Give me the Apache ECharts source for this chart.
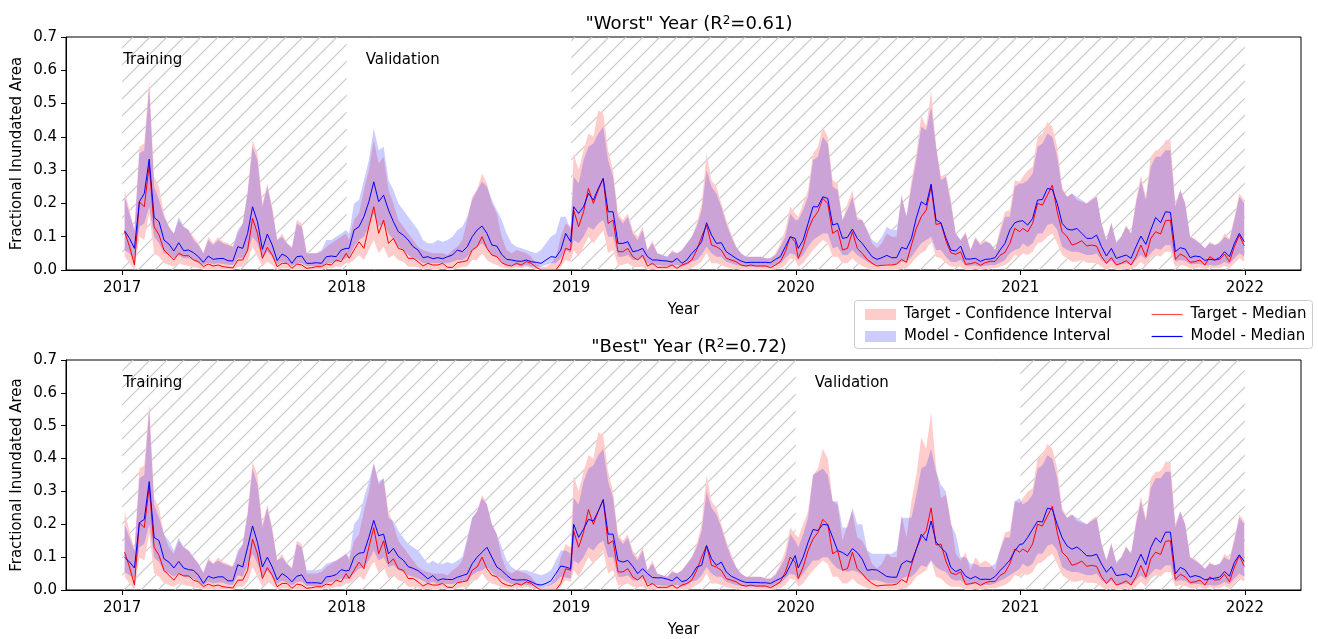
<!DOCTYPE html>
<html><head><meta charset="utf-8">
<script src="https://cdn.jsdelivr.net/npm/echarts@6/dist/echarts.min.js"></script>
<style>html,body{margin:0;padding:0;background:#fff}#c{width:1318px;height:639px}</style>
</head><body><div id="c"></div>
<script>
// ---- categories (8-day composites) ----
const years = [2017, 2018, 2019, 2020, 2021];
const dayOfYear = [4,12,20,28,36,44,52,60,68,76,84,92,100,108,116,124,132,140,148,156,164,172,180,188,196,204,212,220,228,236,244,252,260,268,276,284,292,300,308,316,324,332,340,348,356,364];
const xTickYears = [2017, 2018, 2019, 2020, 2021, 2022];

// ---- target (shared by both panels) ----
const targetMedian = [
0.115,0.07,0.015,0.205,0.19,0.315,0.13,0.105,0.06,0.045,0.03,0.05,0.043,0.043,0.03,0.025,0.01,0.018,0.012,0.015,0.01,0.008,0.006,0.03,0.03,0.06,0.155,0.11,0.035,0.068,0.045,0.01,0.02,0.02,0.005,0.018,0.015,0.005,0.007,0.01,0.01,0.018,0.015,0.03,0.025,0.05,
0.035,0.06,0.085,0.065,0.13,0.19,0.11,0.15,0.08,0.095,0.065,0.06,0.035,0.035,0.025,0.012,0.02,0.015,0.015,0.02,0.008,0.008,0.022,0.025,0.028,0.06,0.07,0.1,0.065,0.045,0.04,0.022,0.015,0.012,0.02,0.015,0.025,0.02,0.008,0,0,0,0,0.02,0.065,0.06,
0.18,0.13,0.175,0.245,0.2,0.24,0.275,0.14,0.15,0.055,0.055,0.065,0.04,0.03,0.045,0.012,0.02,0.008,0.008,0.008,0.015,0.005,0.015,0.02,0.03,0.06,0.1,0.135,0.075,0.07,0.06,0.035,0.03,0.025,0.015,0.012,0.015,0.012,0.012,0.012,0.007,0.015,0.025,0.055,0.1,0.085,
0.035,0.07,0.12,0.155,0.175,0.215,0.2,0.11,0.12,0.06,0.065,0.115,0.065,0.05,0.032,0.02,0.012,0.014,0.015,0.015,0.018,0.032,0.023,0.075,0.125,0.16,0.18,0.25,0.137,0.14,0.088,0.052,0.047,0.055,0.017,0.019,0.023,0.014,0.022,0.026,0.026,0.044,0.053,0.08,0.125,0.115,
0.125,0.115,0.14,0.2,0.195,0.225,0.255,0.175,0.115,0.1,0.075,0.08,0.088,0.072,0.075,0.072,0.04,0.02,0.037,0.015,0.02,0.028,0.015,0.04,0.075,0.04,0.095,0.115,0.108,0.148,0.15,0.032,0.048,0.04,0.023,0.025,0.03,0.015,0.04,0.03,0.032,0.048,0.025,0.07,0.105,0.072
];
const targetUpper = [
0.24,0.18,0.12,0.37,0.38,0.57,0.28,0.25,0.17,0.13,0.11,0.15,0.13,0.12,0.1,0.08,0.05,0.1,0.08,0.1,0.085,0.08,0.07,0.11,0.14,0.24,0.39,0.35,0.2,0.26,0.19,0.09,0.11,0.08,0.07,0.15,0.14,0.05,0.05,0.05,0.055,0.07,0.08,0.09,0.1,0.11,
0.09,0.15,0.17,0.24,0.3,0.39,0.32,0.34,0.24,0.2,0.15,0.13,0.11,0.09,0.07,0.06,0.055,0.05,0.05,0.05,0.045,0.06,0.07,0.09,0.15,0.22,0.24,0.29,0.26,0.2,0.17,0.1,0.06,0.05,0.06,0.055,0.05,0.04,0.02,0.01,0.01,0.02,0.04,0.1,0.14,0.13,
0.35,0.3,0.36,0.41,0.4,0.48,0.47,0.36,0.3,0.17,0.15,0.17,0.12,0.1,0.13,0.06,0.09,0.05,0.045,0.04,0.06,0.05,0.06,0.08,0.1,0.14,0.2,0.35,0.27,0.25,0.2,0.15,0.11,0.07,0.05,0.04,0.04,0.04,0.04,0.035,0.035,0.05,0.08,0.12,0.19,0.17,
0.16,0.2,0.24,0.35,0.37,0.43,0.4,0.27,0.26,0.15,0.2,0.24,0.16,0.15,0.12,0.08,0.065,0.08,0.11,0.1,0.1,0.23,0.16,0.27,0.35,0.465,0.43,0.54,0.375,0.28,0.29,0.215,0.11,0.09,0.115,0.06,0.1,0.08,0.09,0.08,0.06,0.125,0.175,0.18,0.27,0.265,
0.28,0.3,0.31,0.4,0.41,0.445,0.43,0.37,0.25,0.22,0.23,0.21,0.205,0.2,0.215,0.225,0.14,0.09,0.145,0.08,0.1,0.135,0.11,0.21,0.285,0.22,0.34,0.36,0.36,0.39,0.39,0.2,0.24,0.2,0.1,0.095,0.08,0.065,0.085,0.075,0.08,0.11,0.095,0.16,0.23,0.21
];
const targetLower = [
0.04,0.02,0,0.1,0.09,0.17,0.05,0.04,0.02,0.015,0.01,0.02,0.015,0.012,0.008,0.005,0,0,0,0,0,0,0,0.01,0.01,0.025,0.07,0.04,0.01,0.025,0.015,0,0.005,0.005,0,0,0,0,0,0,0,0.005,0.005,0.01,0.01,0.02,
0.02,0.03,0.045,0.03,0.06,0.09,0.05,0.07,0.035,0.045,0.03,0.025,0.01,0.01,0.008,0,0.005,0,0,0.005,0,0,0.005,0.008,0.01,0.03,0.03,0.05,0.03,0.02,0.015,0.008,0.005,0.004,0.008,0.005,0.01,0.005,0,0,0,0,0,0.01,0.03,0.025,
0.06,0.04,0.07,0.1,0.08,0.1,0.12,0.05,0.06,0.015,0.015,0.02,0.01,0.008,0.01,0,0.002,0,0,0,0,0,0,0,0.005,0.015,0.025,0.05,0.02,0.02,0.015,0.008,0.005,0.004,0,0,0,0,0,0,0,0.002,0.005,0.015,0.035,0.03,
0.01,0.02,0.04,0.06,0.075,0.09,0.08,0.04,0.04,0.02,0.02,0.035,0.02,0.012,0.005,0,0,0,0,0,0,0.003,0.005,0.02,0.04,0.05,0.06,0.09,0.04,0.035,0.02,0.01,0.01,0.01,0,0,0.003,0,0.003,0.005,0.005,0.01,0.015,0.025,0.045,0.04,
0.05,0.045,0.055,0.08,0.085,0.1,0.11,0.08,0.045,0.035,0.025,0.025,0.03,0.022,0.022,0.02,0.01,0,0.008,0,0,0.005,0,0.01,0.025,0.01,0.035,0.045,0.04,0.055,0.055,0.01,0.015,0.012,0.005,0.005,0.008,0.002,0.008,0.005,0.006,0.012,0.005,0.02,0.035,0.025
];

// ---- model, "Worst" split (top panel) ----
const worstModelMedian = [
0.118,0.095,0.065,0.205,0.23,0.333,0.158,0.145,0.09,0.078,0.057,0.082,0.058,0.06,0.052,0.04,0.023,0.042,0.032,0.034,0.035,0.028,0.027,0.07,0.065,0.11,0.19,0.145,0.062,0.108,0.075,0.028,0.048,0.04,0.02,0.04,0.042,0.02,0.02,0.022,0.02,0.04,0.042,0.04,0.06,0.065,
0.065,0.12,0.13,0.16,0.205,0.265,0.205,0.225,0.18,0.145,0.115,0.105,0.09,0.07,0.06,0.037,0.04,0.034,0.037,0.034,0.04,0.045,0.06,0.055,0.07,0.1,0.12,0.132,0.11,0.075,0.072,0.047,0.032,0.03,0.027,0.026,0.03,0.025,0.023,0.02,0.03,0.04,0.038,0.06,0.11,0.085,
0.19,0.17,0.19,0.23,0.21,0.245,0.275,0.175,0.175,0.08,0.08,0.085,0.055,0.058,0.065,0.04,0.03,0.03,0.028,0.027,0.024,0.035,0.02,0.03,0.05,0.065,0.085,0.142,0.105,0.08,0.082,0.055,0.045,0.035,0.027,0.022,0.023,0.023,0.023,0.023,0.022,0.032,0.04,0.07,0.1,0.095,
0.065,0.09,0.14,0.19,0.19,0.22,0.215,0.135,0.14,0.095,0.098,0.123,0.095,0.08,0.06,0.04,0.032,0.037,0.044,0.037,0.037,0.068,0.063,0.095,0.157,0.205,0.195,0.258,0.15,0.142,0.097,0.06,0.057,0.072,0.033,0.033,0.035,0.026,0.032,0.033,0.037,0.06,0.08,0.12,0.142,0.147,
0.148,0.135,0.155,0.21,0.212,0.245,0.242,0.2,0.14,0.123,0.12,0.125,0.11,0.095,0.095,0.105,0.07,0.042,0.065,0.035,0.04,0.045,0.035,0.07,0.102,0.077,0.12,0.158,0.142,0.175,0.173,0.055,0.067,0.063,0.037,0.042,0.04,0.029,0.032,0.03,0.037,0.055,0.04,0.08,0.11,0.085
];
const worstModelUpper = [
0.22,0.17,0.12,0.35,0.36,0.55,0.25,0.21,0.16,0.13,0.11,0.16,0.13,0.12,0.09,0.075,0.05,0.09,0.075,0.09,0.08,0.075,0.07,0.12,0.14,0.23,0.37,0.33,0.19,0.25,0.18,0.09,0.1,0.08,0.065,0.14,0.13,0.05,0.05,0.05,0.06,0.09,0.09,0.1,0.11,0.12,
0.11,0.2,0.21,0.27,0.33,0.425,0.36,0.37,0.27,0.24,0.2,0.18,0.16,0.14,0.12,0.09,0.08,0.08,0.09,0.085,0.09,0.1,0.12,0.13,0.16,0.21,0.24,0.265,0.25,0.21,0.18,0.15,0.11,0.08,0.07,0.065,0.06,0.055,0.05,0.06,0.08,0.1,0.11,0.16,0.16,0.12,
0.28,0.26,0.33,0.37,0.38,0.41,0.43,0.33,0.28,0.16,0.14,0.16,0.11,0.09,0.12,0.06,0.08,0.05,0.045,0.04,0.055,0.05,0.06,0.08,0.1,0.13,0.18,0.3,0.25,0.23,0.19,0.14,0.1,0.07,0.05,0.04,0.04,0.04,0.04,0.035,0.035,0.045,0.07,0.1,0.17,0.15,
0.15,0.18,0.22,0.33,0.34,0.4,0.38,0.25,0.24,0.15,0.18,0.22,0.15,0.15,0.12,0.09,0.08,0.1,0.13,0.12,0.12,0.22,0.16,0.25,0.33,0.43,0.42,0.49,0.37,0.27,0.28,0.2,0.11,0.09,0.11,0.06,0.095,0.075,0.085,0.08,0.06,0.11,0.16,0.16,0.25,0.26,
0.26,0.27,0.29,0.37,0.38,0.41,0.4,0.34,0.24,0.22,0.23,0.22,0.21,0.2,0.21,0.22,0.14,0.09,0.14,0.085,0.1,0.13,0.11,0.2,0.27,0.21,0.31,0.34,0.34,0.36,0.36,0.19,0.24,0.2,0.1,0.09,0.08,0.065,0.08,0.075,0.08,0.1,0.09,0.15,0.22,0.2
];
const worstModelLower = [
0.06,0.05,0.025,0.13,0.14,0.19,0.1,0.08,0.05,0.045,0.035,0.045,0.035,0.035,0.03,0.022,0.015,0.022,0.018,0.02,0.018,0.016,0.015,0.035,0.035,0.055,0.1,0.08,0.035,0.055,0.04,0.015,0.025,0.02,0.012,0.02,0.02,0.012,0.012,0.012,0.012,0.02,0.02,0.025,0.03,0.035,
0.04,0.07,0.09,0.1,0.13,0.17,0.13,0.14,0.11,0.09,0.07,0.06,0.045,0.035,0.03,0.02,0.02,0.02,0.02,0.02,0.02,0.025,0.03,0.03,0.04,0.06,0.07,0.08,0.065,0.045,0.04,0.025,0.015,0.015,0.015,0.01,0.015,0.01,0.01,0.01,0.015,0.02,0.02,0.035,0.06,0.05,
0.09,0.08,0.1,0.13,0.12,0.14,0.15,0.1,0.1,0.04,0.04,0.045,0.03,0.03,0.035,0.02,0.015,0.015,0.013,0.012,0.012,0.015,0.01,0.015,0.025,0.03,0.045,0.07,0.05,0.04,0.04,0.025,0.02,0.015,0.012,0.01,0.01,0.01,0.01,0.01,0.01,0.015,0.02,0.035,0.05,0.045,
0.03,0.045,0.07,0.09,0.1,0.11,0.11,0.065,0.07,0.045,0.045,0.06,0.045,0.035,0.025,0.018,0.015,0.015,0.018,0.016,0.016,0.025,0.025,0.04,0.06,0.08,0.09,0.1,0.06,0.06,0.04,0.025,0.023,0.03,0.013,0.013,0.014,0.01,0.013,0.014,0.015,0.022,0.03,0.05,0.06,0.065,
0.08,0.07,0.08,0.11,0.11,0.135,0.14,0.12,0.07,0.06,0.055,0.055,0.05,0.045,0.045,0.05,0.03,0.018,0.028,0.015,0.017,0.02,0.015,0.03,0.045,0.033,0.05,0.065,0.06,0.075,0.075,0.025,0.03,0.028,0.017,0.018,0.018,0.013,0.015,0.013,0.016,0.024,0.018,0.035,0.05,0.04
];

// ---- model, "Best" split (bottom panel) ----
const bestModelMedian = [
0.1,0.085,0.067,0.205,0.215,0.33,0.16,0.15,0.095,0.085,0.067,0.087,0.067,0.062,0.06,0.045,0.02,0.042,0.036,0.04,0.04,0.028,0.028,0.077,0.07,0.13,0.195,0.145,0.07,0.1,0.07,0.031,0.05,0.04,0.025,0.042,0.046,0.022,0.022,0.022,0.02,0.04,0.042,0.047,0.062,0.058,
0.06,0.1,0.112,0.114,0.16,0.212,0.165,0.17,0.11,0.127,0.102,0.091,0.071,0.066,0.059,0.047,0.034,0.044,0.029,0.034,0.032,0.032,0.039,0.044,0.049,0.08,0.1,0.115,0.13,0.1,0.07,0.06,0.045,0.033,0.03,0.031,0.031,0.025,0.018,0.015,0.02,0.028,0.05,0.073,0.07,0.065,
0.2,0.16,0.185,0.215,0.21,0.24,0.275,0.17,0.17,0.09,0.085,0.09,0.072,0.05,0.065,0.05,0.038,0.037,0.037,0.033,0.028,0.04,0.025,0.03,0.045,0.07,0.075,0.135,0.095,0.075,0.085,0.055,0.042,0.035,0.028,0.023,0.023,0.023,0.022,0.022,0.02,0.028,0.035,0.045,0.075,0.105,
0.067,0.1,0.145,0.184,0.181,0.2,0.198,0.16,0.12,0.114,0.104,0.126,0.114,0.094,0.06,0.062,0.061,0.051,0.041,0.039,0.039,0.079,0.089,0.084,0.124,0.17,0.15,0.21,0.146,0.129,0.114,0.069,0.056,0.063,0.042,0.034,0.041,0.032,0.033,0.032,0.041,0.059,0.074,0.091,0.119,0.139,
0.14,0.16,0.185,0.209,0.207,0.249,0.246,0.199,0.159,0.134,0.124,0.131,0.119,0.104,0.104,0.109,0.079,0.054,0.071,0.044,0.046,0.049,0.039,0.076,0.109,0.077,0.129,0.159,0.144,0.176,0.176,0.049,0.069,0.061,0.039,0.044,0.04,0.031,0.034,0.036,0.039,0.056,0.042,0.084,0.107,0.087
];
const bestModelUpper = [
0.2,0.16,0.12,0.34,0.35,0.55,0.26,0.22,0.17,0.15,0.12,0.16,0.13,0.12,0.1,0.08,0.055,0.09,0.08,0.09,0.08,0.075,0.07,0.12,0.14,0.23,0.37,0.32,0.19,0.25,0.18,0.09,0.1,0.08,0.065,0.14,0.13,0.06,0.06,0.06,0.065,0.08,0.085,0.09,0.1,0.11,
0.1,0.2,0.22,0.28,0.33,0.385,0.33,0.34,0.22,0.21,0.18,0.16,0.14,0.13,0.12,0.1,0.08,0.09,0.08,0.08,0.085,0.08,0.09,0.1,0.16,0.22,0.24,0.28,0.26,0.2,0.17,0.13,0.09,0.07,0.06,0.06,0.06,0.055,0.05,0.045,0.05,0.06,0.09,0.12,0.12,0.11,
0.28,0.26,0.33,0.37,0.38,0.41,0.43,0.33,0.28,0.16,0.14,0.16,0.11,0.09,0.12,0.06,0.08,0.05,0.045,0.04,0.055,0.05,0.06,0.08,0.1,0.13,0.18,0.3,0.25,0.23,0.19,0.14,0.1,0.07,0.05,0.04,0.04,0.04,0.04,0.035,0.035,0.045,0.07,0.1,0.17,0.15,
0.13,0.17,0.22,0.35,0.36,0.37,0.35,0.27,0.27,0.19,0.19,0.25,0.2,0.2,0.12,0.11,0.11,0.11,0.11,0.11,0.12,0.22,0.22,0.22,0.29,0.37,0.38,0.43,0.36,0.32,0.3,0.2,0.17,0.1,0.1,0.08,0.08,0.07,0.07,0.07,0.08,0.12,0.16,0.16,0.27,0.28,
0.26,0.27,0.29,0.37,0.38,0.41,0.4,0.34,0.24,0.22,0.23,0.22,0.21,0.2,0.21,0.22,0.14,0.09,0.14,0.085,0.1,0.13,0.11,0.2,0.27,0.21,0.31,0.34,0.34,0.36,0.36,0.19,0.24,0.2,0.1,0.09,0.08,0.065,0.08,0.075,0.08,0.1,0.09,0.15,0.22,0.2
];
const bestModelLower = [
0.055,0.045,0.035,0.13,0.14,0.2,0.1,0.085,0.055,0.05,0.04,0.05,0.04,0.038,0.035,0.027,0.012,0.025,0.02,0.023,0.023,0.016,0.016,0.045,0.04,0.075,0.11,0.08,0.04,0.06,0.04,0.018,0.028,0.022,0.014,0.024,0.026,0.012,0.012,0.012,0.012,0.022,0.024,0.027,0.035,0.033,
0.035,0.05,0.065,0.07,0.09,0.12,0.09,0.1,0.07,0.075,0.06,0.055,0.045,0.04,0.035,0.028,0.02,0.025,0.017,0.02,0.018,0.018,0.022,0.025,0.027,0.045,0.055,0.06,0.07,0.055,0.04,0.035,0.025,0.018,0.016,0.016,0.016,0.013,0.01,0.008,0.01,0.015,0.025,0.04,0.038,0.035,
0.09,0.08,0.1,0.13,0.12,0.14,0.15,0.1,0.1,0.04,0.04,0.045,0.03,0.03,0.035,0.02,0.015,0.015,0.013,0.012,0.012,0.015,0.01,0.015,0.025,0.03,0.045,0.07,0.05,0.04,0.04,0.025,0.02,0.015,0.012,0.01,0.01,0.01,0.01,0.01,0.01,0.015,0.02,0.035,0.05,0.045,
0.03,0.05,0.07,0.09,0.09,0.1,0.1,0.08,0.065,0.06,0.055,0.06,0.055,0.045,0.03,0.03,0.03,0.025,0.02,0.02,0.02,0.035,0.04,0.04,0.055,0.075,0.07,0.09,0.07,0.06,0.055,0.035,0.028,0.03,0.02,0.016,0.02,0.015,0.016,0.015,0.02,0.028,0.035,0.045,0.055,0.065,
0.08,0.07,0.08,0.11,0.11,0.135,0.14,0.12,0.07,0.06,0.055,0.055,0.05,0.045,0.045,0.05,0.03,0.018,0.028,0.015,0.017,0.02,0.015,0.03,0.045,0.033,0.05,0.065,0.06,0.075,0.075,0.025,0.03,0.028,0.017,0.018,0.018,0.013,0.015,0.013,0.016,0.024,0.018,0.035,0.05,0.04
];

// ---- training / validation periods ----
const worstTrainingSpans = [[2017, 2018], [2019, 2022]];
const worstValidationSpan = [2018, 2019];
const bestTrainingSpans = [[2017, 2020], [2021, 2022]];
const bestValidationSpan = [2020, 2021];

// ---- build ----
const FONT = 'DejaVu Sans';
const dates = [];
years.forEach(y => dayOfYear.forEach(d => dates.push(y + d / 365)));
const pts = arr => arr.map((v, i) => [dates[i], v]);

function hatchCanvas() {
  const s = 17, c = document.createElement('canvas');
  c.width = s; c.height = s;
  const g = c.getContext('2d');
  g.strokeStyle = '#c6c6c6'; g.lineWidth = 1.1;
  g.beginPath();
  g.moveTo(0, s); g.lineTo(s, 0);
  g.moveTo(-s / 2, s / 2); g.lineTo(s / 2, -s / 2);
  g.moveTo(s / 2, s * 1.5); g.lineTo(s * 1.5, s / 2);
  g.stroke();
  return c;
}
const hatch = { image: hatchCanvas(), repeat: 'repeat' };

// filled band between two series, drawn through the axis scales
function band(k, name, hi, lo, fill, extra) {
  return Object.assign({
    type: 'custom', name: name, xAxisIndex: k, yAxisIndex: k, silent: true, animation: false,
    data: [[dates[0], lo[0]]], encode: { x: 0, y: 1 },
    itemStyle: { color: fill },
    renderItem: function (params, api) {
      const top = hi.map((v, i) => api.coord([dates[i], v]));
      const bot = lo.map((v, i) => api.coord([dates[i], v])).reverse();
      return { type: 'polygon', shape: { points: top.concat(bot) }, style: { fill: fill, stroke: null, lineWidth: 0 } };
    }
  }, extra || {});
}

function panelSeries(k, tu, tl, tm, mu, ml, mm, trainSpans, valSpan) {
  const envLow = tl.map((v, i) => Math.min(v, ml[i]));
  const envHigh = tu.map((v, i) => Math.max(v, mu[i]));
  const lab = (txt, dx) => ({ show: true, formatter: txt, position: [dx, 16], color: '#000', fontSize: 15, fontFamily: FONT });
  const areas = trainSpans.map((s, j) => [
    { xAxis: s[0], itemStyle: { color: hatch }, label: j === 0 ? lab('Training', 1) : { show: false } },
    { xAxis: s[1] }
  ]);
  areas.push([{ xAxis: valSpan[0], itemStyle: { color: 'rgba(0,0,0,0)' }, label: lab('Validation', 19) }, { xAxis: valSpan[1] }]);
  const line = { type: 'line', xAxisIndex: k, yAxisIndex: k, symbol: 'none', showSymbol: false, silent: true, animation: false };
  return [
    band(k, 'mask' + k, envHigh, envLow, '#ffffff', { markArea: { silent: true, data: areas } }),
    band(k, 'Target - Confidence Interval', tu, tl, 'rgba(255,0,0,0.2)'),
    band(k, 'Model - Confidence Interval', mu, ml, 'rgba(0,0,255,0.2)'),
    Object.assign({}, line, { name: 'Target - Median', data: pts(tm), itemStyle: { color: '#ff0000' },
      lineStyle: { color: '#ff0000', width: 1 } }),
    Object.assign({}, line, { name: 'Model - Median', data: pts(mm), itemStyle: { color: '#0000ff' },
      lineStyle: { color: '#0000ff', width: 1 } })
  ];
}

function xAxisFor(k) {
  return {
    gridIndex: k, type: 'value', min: 2016.75, max: 2022.25, z: 5,
    axisLine: { show: true, onZero: false, lineStyle: { color: '#000', width: 1 } },
    axisTick: { show: true, length: 5, customValues: xTickYears, lineStyle: { color: '#000', width: 1 } },
    axisLabel: { customValues: xTickYears, color: '#000', fontSize: 15, fontFamily: FONT, margin: 11,
      formatter: v => String(Math.round(v)) },
    splitLine: { show: false },
    name: 'Year', nameLocation: 'middle', nameGap: 33, nameMoveOverlap: false,
    nameTextStyle: { color: '#000', fontSize: 15, fontFamily: FONT }
  };
}
function yAxisFor(k) {
  return {
    gridIndex: k, type: 'value', min: 0, max: 0.7, interval: 0.1, z: 5,
    axisLine: { show: true, lineStyle: { color: '#000', width: 1 } },
    axisTick: { show: true, length: 5, lineStyle: { color: '#000', width: 1 } },
    axisLabel: { color: '#000', fontSize: 15, fontFamily: FONT, margin: 9, formatter: v => v.toFixed(1) },
    splitLine: { show: false },
    name: 'Fractional Inundated Area', nameLocation: 'middle', nameGap: 41, nameMoveOverlap: false,
    nameTextStyle: { color: '#000', fontSize: 15, fontFamily: FONT }
  };
}
const titleStyle = { color: '#000', fontSize: 18, fontWeight: 'normal', fontFamily: FONT,
  rich: { sup: { fontSize: 12, fontFamily: FONT, color: '#000', verticalAlign: 'top', lineHeight: 12 } } };
const legendText = { color: '#000', fontSize: 15, fontFamily: FONT, padding: [0, 0, 0, 3] };

const chart = echarts.init(document.getElementById('c'), null, { renderer: 'canvas' });
chart.setOption({
  animation: false,
  backgroundColor: '#fff',
  title: [
    { text: '"Worst" Year (R{sup|2}=0.61)', left: 684, top: 10, textAlign: 'center', textStyle: titleStyle },
    { text: '"Best" Year (R{sup|2}=0.72)', left: 684, top: 333, textAlign: 'center', textStyle: titleStyle }
  ],
  grid: [
    { left: 66, right: 17, top: 37, height: 233, show: true, borderColor: '#000', borderWidth: 1, backgroundColor: 'transparent' },
    { left: 66, right: 17, top: 360, height: 233, show: true, borderColor: '#000', borderWidth: 1, backgroundColor: 'transparent' }
  ],
  xAxis: [xAxisFor(0), xAxisFor(1)],
  yAxis: [yAxisFor(0), yAxisFor(1)],
  legend: [
    { left: 860, top: 302, orient: 'vertical', itemWidth: 31, itemHeight: 11, itemGap: 7, selectedMode: false,
      textStyle: legendText,
      data: [
        { name: 'Target - Confidence Interval', icon: 'rect', itemStyle: { color: 'rgba(255,0,0,0.2)' } },
        { name: 'Model - Confidence Interval', icon: 'rect', itemStyle: { color: 'rgba(0,0,255,0.2)' } }
      ] },
    { left: 1146, top: 302, orient: 'vertical', itemWidth: 31, itemHeight: 11, itemGap: 7, selectedMode: false,
      textStyle: legendText,
      data: [
        { name: 'Target - Median', itemStyle: { opacity: 0 }, lineStyle: { color: '#ff5050', width: 1.2 } },
        { name: 'Model - Median', itemStyle: { opacity: 0 }, lineStyle: { color: '#0000ff', width: 1.2 } }
      ] }
  ],
  graphic: [
    { type: 'rect', z: 0, silent: true, shape: { x: 854.5, y: 300.5, width: 458, height: 48, r: 3 },
      style: { fill: 'rgba(255,255,255,0.8)', stroke: '#cccccc', lineWidth: 1 } }
  ],
  series: [].concat(
    panelSeries(0, targetUpper, targetLower, targetMedian, worstModelUpper, worstModelLower, worstModelMedian, worstTrainingSpans, worstValidationSpan),
    panelSeries(1, targetUpper, targetLower, targetMedian, bestModelUpper, bestModelLower, bestModelMedian, bestTrainingSpans, bestValidationSpan)
  )
});
</script></body></html>
